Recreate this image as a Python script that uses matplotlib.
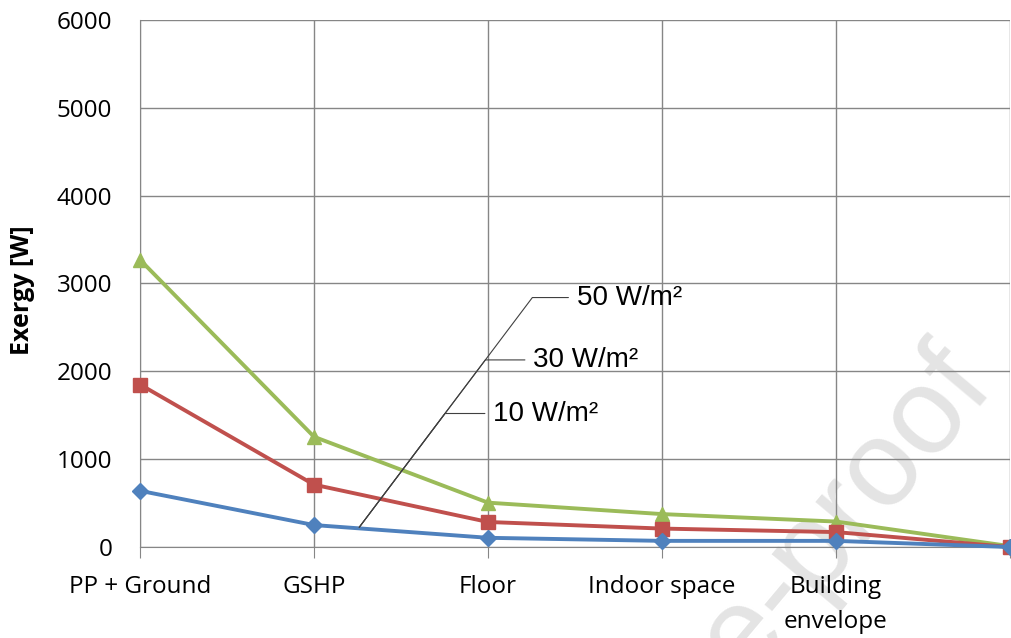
import matplotlib.pyplot as plt

# categories along the energy chain
stages = ['PP + Ground', 'GSHP', 'Floor', 'Indoor space', 'Building\nenvelope', '']

# exergy [W] per stage for each heating load
load_10 = [640, 250, 105, 70, 70, 0]
load_30 = [1850, 710, 285, 210, 170, 0]
load_50 = [3270, 1255, 505, 375, 290, 10]

series_names = ['10 W/m²', '30 W/m²', '50 W/m²']

plt.rcParams['font.family'] = ['Open Sans', 'DejaVu Sans']

fig = plt.figure(figsize=(10.11, 6.38), dpi=100)
ax = fig.add_axes([0.1385, 0.1426, 0.8605, 0.8261])
ax.set_zorder(1)
ax.patch.set_visible(False)

x = list(range(len(stages)))
ax.plot(x, load_10, color='#4F81BD', lw=2.8, marker='D', ms=8, zorder=5, clip_on=False)
ax.plot(x, load_30, color='#C0504D', lw=2.8, marker='s', ms=10, zorder=4, clip_on=False)
ax.plot(x, load_50, color='#9BBB59', lw=2.8, marker='^', ms=10, zorder=3, clip_on=False)

ax.set_xlim(0, 5)
ax.set_ylim(0, 6000)
ax.set_yticks(range(0, 6001, 1000))
ax.set_xticks(x)
ax.set_xticklabels(stages, fontsize=17.5, linespacing=1.6)
ax.tick_params(axis='y', labelsize=17.5, length=0, pad=20)
ax.tick_params(axis='x', length=8, color='#868686', pad=12)
ax.grid(True, color='#868686', lw=1)
ax.set_axisbelow(True)
for side in ['top', 'right']:
    ax.spines[side].set_visible(False)
for side in ['left', 'bottom']:
    ax.spines[side].set_color('#868686')
ax.set_ylabel('Exergy [W]', fontsize=18, fontweight='bold')
ax.yaxis.set_label_coords(-0.121, 0.488)

# data labels with leader lines, as in the spreadsheet original
label_pos = [(2.03, 1520), (2.26, 2130), (2.51, 2840)]
for name, (tx, ty) in zip(series_names, label_pos):
    ax.annotate(name, xy=(1.26, 225), xytext=(tx, ty), fontsize=20,
                family=['Liberation Sans', 'DejaVu Sans'], va='center', ha='left',
                arrowprops=dict(arrowstyle='-', color='#404040', lw=0.8,
                                relpos=(0, 0.5), shrinkA=4, shrinkB=0,
                                connectionstyle='angle,angleA=0,angleB=53,rad=0'),
                zorder=6)

# faint watermark behind the plot
fig.text(0.985, 0.392, 'Journal Pre-proof', fontsize=88, color='#e4e4e4',
         rotation=50, rotation_mode='anchor', ha='right', va='baseline',
         family=['Liberation Sans', 'DejaVu Sans'], zorder=0)

fig.savefig('out.png', dpi=100)
